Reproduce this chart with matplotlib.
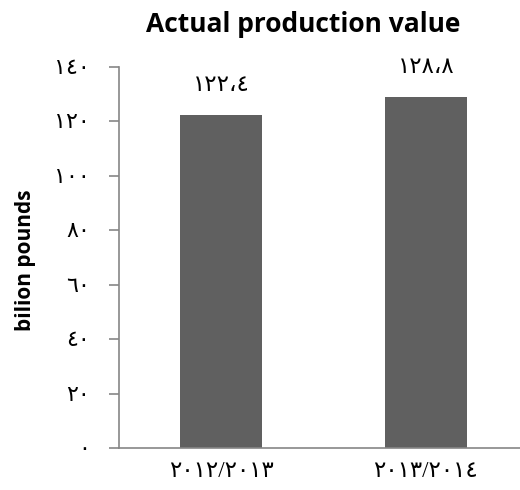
import matplotlib.pyplot as plt

plt.rcParams['font.family'] = ['Liberation Serif', 'DejaVu Sans']

years = ['٢٠١٢/٢٠١٣', '٢٠١٣/٢٠١٤']
values = [122.4, 128.8]
value_labels = ['١٢٢،٤', '١٢٨،٨']
yticks = [0, 20, 40, 60, 80, 100, 120, 140]
ytick_labels = ['٠', '٢٠', '٤٠', '٦٠', '٨٠', '١٠٠', '١٢٠', '١٤٠']

fig = plt.figure(figsize=(5.2, 4.9), dpi=100)
ax = fig.add_axes([119 / 520, 42 / 490, 401 / 520, 381 / 490])

x = range(len(years))
ax.bar(x, values, width=0.4, color='#606060')

for i, v in enumerate(values):
    ax.text(i, v + 7, value_labels[i], ha='center', va='bottom', fontsize=16.5)

ax.set_xlim(-0.5, 1.46)
ax.set_ylim(0, 140)
ax.set_xticks(list(x))
ax.set_xticklabels(years, fontsize=16.5)
ax.set_yticks(yticks)
ax.set_yticklabels(ytick_labels, fontsize=16)

ax.tick_params(axis='x', length=0, pad=9)
ax.tick_params(axis='y', length=7, width=1.2, color='#868686', pad=14, direction='out')

for s in ['top', 'right']:
    ax.spines[s].set_visible(False)
for s in ['left', 'bottom']:
    ax.spines[s].set_color('#868686')
    ax.spines[s].set_linewidth(1.2)

fig.text(303 / 520, 1 - 24 / 490, 'Actual production value', ha='center', va='center',
         fontsize=19, fontweight='bold', family=['Open Sans', 'DejaVu Sans'])
fig.text(25 / 520, 1 - 260 / 490, 'bilion pounds', ha='center', va='center', rotation=90,
         fontsize=15, fontweight='bold', family=['Open Sans', 'DejaVu Sans'])

fig.savefig('out.png', dpi=100)
